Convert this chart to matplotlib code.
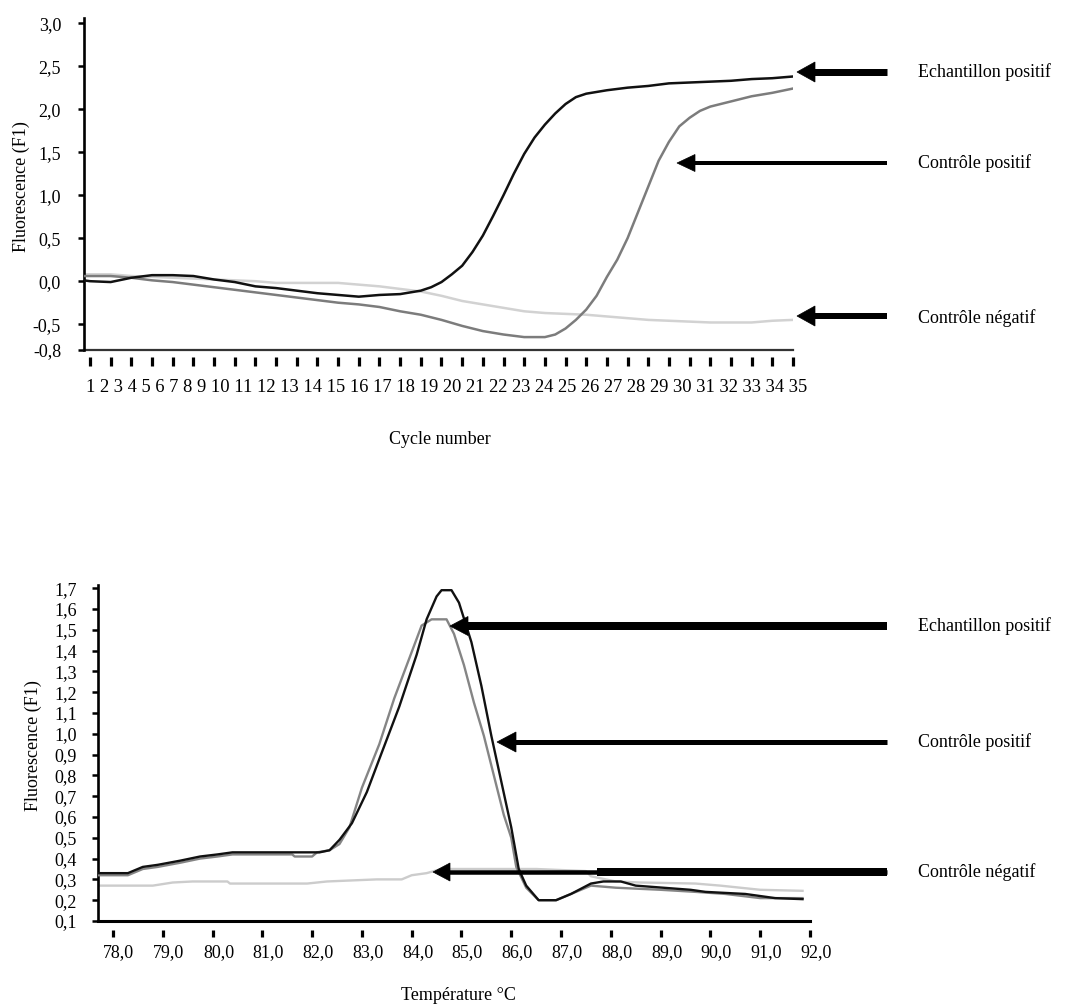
import matplotlib
matplotlib.use('Agg')
import matplotlib.pyplot as plt
from matplotlib.lines import Line2D
from matplotlib.patches import Polygon
from matplotlib.transforms import ScaledTranslation

plt.rcParams['font.family'] = ['Liberation Serif', 'DejaVu Serif']

# ─── données : amplification (cycles) ─────────────────────────
ECH_CYC = [0.7, 1, 2, 3, 4, 5, 6, 7, 8, 9, 10, 11, 12, 13, 14, 15, 16, 17,
           17.5, 18, 18.5, 19, 19.5, 20, 20.5, 21, 21.5, 22, 22.5, 23, 23.5, 24, 24.5,
           25, 26, 27, 28, 29, 30, 31, 32, 33, 34, 35]
ECH_FLU = [0.01, 0.0, -0.01, 0.04, 0.07, 0.07, 0.06, 0.02, -0.01, -0.06, -0.08, -0.11,
           -0.14, -0.16, -0.18, -0.16, -0.15, -0.11,
           -0.07, -0.01, 0.08, 0.18, 0.34, 0.53, 0.76, 1.0, 1.25, 1.48, 1.67, 1.82, 1.95, 2.06, 2.14,
           2.18, 2.22, 2.25, 2.27, 2.30, 2.31, 2.32, 2.33, 2.35, 2.36, 2.38]

POS_CYC = [0.7, 1, 2, 3, 4, 5, 6, 7, 8, 9, 10, 11, 12, 13, 14, 15, 16, 17, 18, 19, 20,
           21, 22, 23, 23.5, 24, 24.5, 25, 25.5, 26, 26.5, 27, 27.5, 28, 28.5, 29, 29.5,
           30, 30.5, 31, 32, 33, 34, 35]
POS_FLU = [0.06, 0.06, 0.06, 0.04, 0.01, -0.01, -0.04, -0.07, -0.10, -0.13, -0.16, -0.19,
           -0.22, -0.25, -0.27, -0.30, -0.35, -0.39, -0.45, -0.52, -0.58, -0.62, -0.65, -0.65,
           -0.62, -0.55, -0.45, -0.33, -0.17, 0.05, 0.25, 0.5, 0.8, 1.1, 1.4, 1.62, 1.8,
           1.9, 1.98, 2.03, 2.09, 2.15, 2.19, 2.24]

NEG_CYC = [0.7, 1, 2, 3, 4, 5, 6, 7, 8, 9, 10, 11, 12, 13, 14, 15, 16, 17, 18,
           19, 20, 21, 22, 23, 24, 25, 26, 27, 28, 29, 30, 31, 32, 33, 34, 35]
NEG_FLU = [0.08, 0.08, 0.08, 0.06, 0.05, 0.04, 0.03, 0.02, 0.01, 0.0, -0.02, -0.02, -0.02,
           -0.02, -0.04, -0.06, -0.09, -0.12, -0.17, -0.23, -0.27, -0.31, -0.35, -0.37,
           -0.38, -0.39, -0.41, -0.43, -0.45, -0.46, -0.47, -0.48, -0.48, -0.48, -0.46, -0.45]

CYCLE_TICKS = list(range(1, 36))
TOP_YTICKS = [-0.8, -0.5, 0.0, 0.5, 1.0, 1.5, 2.0, 2.5, 3.0]
TOP_YLABELS = ['-0,8', '-0,5', '0,0', '0,5', '1,0', '1,5', '2,0', '2,5', '3,0']

# ─── données : courbe de fusion (température) ─────────────────
ECH_T = [77.7, 78.3, 78.6, 78.9, 79.35, 79.75, 80.1, 80.4, 82.15, 82.35, 82.55, 82.8,
         83.1, 83.4, 83.75, 84.1, 84.3, 84.5, 84.6, 84.8, 84.95, 85.2, 85.4, 85.6, 85.8,
         86.0, 86.15, 86.3, 86.55, 86.9, 87.2, 87.6, 87.85, 88.2, 88.5, 89.05, 89.6,
         89.9, 90.7, 91.3, 91.85]
ECH_F = [0.33, 0.33, 0.36, 0.37, 0.39, 0.41, 0.42, 0.43, 0.43, 0.44, 0.49, 0.57,
         0.72, 0.91, 1.13, 1.38, 1.55, 1.66, 1.69, 1.69, 1.63, 1.44, 1.23, 0.99, 0.77,
         0.55, 0.35, 0.27, 0.20, 0.20, 0.23, 0.28, 0.29, 0.29, 0.27, 0.26, 0.25,
         0.24, 0.23, 0.21, 0.205]

POS_T = [77.7, 78.3, 78.6, 78.9, 79.35, 79.75, 80.1, 80.4, 81.6, 81.65, 82.0, 82.1,
         82.35, 82.55, 82.75, 83.0, 83.35, 83.65, 83.98, 84.2, 84.4, 84.7, 84.85, 85.05,
         85.25, 85.45, 85.65, 85.85, 86.0, 86.1, 86.2, 86.3, 86.55, 86.9, 87.2, 87.6,
         88.1, 89.0, 89.7, 90.3, 91.0, 91.85]
POS_F = [0.32, 0.32, 0.35, 0.36, 0.38, 0.40, 0.41, 0.42, 0.42, 0.41, 0.41, 0.43,
         0.44, 0.47, 0.55, 0.74, 0.95, 1.17, 1.38, 1.52, 1.55, 1.55, 1.48, 1.33,
         1.15, 0.99, 0.80, 0.61, 0.50, 0.36, 0.31, 0.26, 0.20, 0.20, 0.23, 0.27,
         0.26, 0.25, 0.24, 0.23, 0.21, 0.21]

NEG_T = [77.7, 78.8, 79.2, 79.6, 80.3, 80.35, 81.9, 82.3, 83.3, 83.8, 84.0, 84.3, 84.6,
         85.5, 86.5, 87.5, 87.6, 88.1, 88.6, 89.7, 90.2, 91.0, 91.85]
NEG_F = [0.27, 0.27, 0.285, 0.29, 0.29, 0.28, 0.28, 0.29, 0.30, 0.30, 0.32, 0.33, 0.35,
         0.35, 0.35, 0.34, 0.315, 0.29, 0.285, 0.28, 0.27, 0.25, 0.245]

TEMP_TICKS = [78, 79, 80, 81, 82, 83, 84, 85, 86, 87, 88, 89, 90, 91, 92]
TEMP_LABELS = ['78,0', '79,0', '80,0', '81,0', '82,0', '83,0', '84,0', '85,0',
               '86,0', '87,0', '88,0', '89,0', '90,0', '91,0', '92,0']
BOT_YTICKS = [0.1, 0.2, 0.3, 0.4, 0.5, 0.6, 0.7, 0.8, 0.9, 1.0, 1.1, 1.2, 1.3, 1.4,
              1.5, 1.6, 1.7]
BOT_YLABELS = ['0,1', '0,2', '0,3', '0,4', '0,5', '0,6', '0,7', '0,8', '0,9', '1,0',
               '1,1', '1,2', '1,3', '1,4', '1,5', '1,6', '1,7']

LABELS = ['Echantillon positif', 'Contrôle positif', 'Contrôle négatif']

# ─── figure (coordonnées en pixels) ───────────────────────────
W, H = 1088, 1008
fig = plt.figure(figsize=(W / 100, H / 100), dpi=100, facecolor='white')


def fx(x):
    return x / W


def fy(y):
    return 1 - y / H


def axes_px(left, top, right, bottom):
    return fig.add_axes([fx(left), fy(bottom), (right - left) / W, (bottom - top) / H])


def style_axes(ax, tick_offset, tick_len, ylen, ypad):
    for s in ('top', 'right'):
        ax.spines[s].set_visible(False)
    ax.spines['left'].set_linewidth(1.9)
    ax.spines['bottom'].set_position(('outward', tick_offset))
    ax.spines['bottom'].set_visible(False)
    ax.tick_params(axis='x', direction='out', length=tick_len, width=2.3, color='black')
    ax.tick_params(axis='y', direction='out', length=ylen, width=1.8, pad=ypad,
                   labelsize=13)


def arrow(x_tail, x_tip, y, shaft, head_w, head_l):
    fig.add_artist(Line2D([fx(x_tip + head_l - 1), fx(x_tail)], [fy(y), fy(y)],
                          lw=shaft * 0.72, color='black', solid_capstyle='butt'))
    fig.add_artist(Polygon([(fx(x_tip), fy(y)),
                            (fx(x_tip + head_l), fy(y - head_w / 2)),
                            (fx(x_tip + head_l), fy(y + head_w / 2))],
                           closed=True, transform=fig.transFigure,
                           facecolor='black', edgecolor='black', lw=0.5))


# ═══ graphe 1 : amplification ═════════════════════════════════
ax1 = axes_px(84, 18, 793, 350)
ax1.plot(NEG_CYC, NEG_FLU, color='#d2d2d2', lw=1.8, zorder=2)
ax1.plot(POS_CYC, POS_FLU, color='#7c7c7c', lw=1.8, zorder=3)
ax1.plot(ECH_CYC, ECH_FLU, color='#111111', lw=1.8, zorder=4)
ax1.set_xlim(0.71, 35.0)
ax1.set_ylim(-0.8, 3.06)
style_axes(ax1, 5, 6.5, 4.5, 12)
ax1.set_xticks(CYCLE_TICKS)
ax1.tick_params(axis='x', labelbottom=False)
ax1.set_yticks(TOP_YTICKS)
ax1.set_yticklabels(TOP_YLABELS)
ax1.axhline(-0.8, color='#333333', lw=1.6, clip_on=False)

fig.text(fx(86), fy(387), ' '.join(str(c) for c in CYCLE_TICKS),
         ha='left', va='center', fontsize=13.35)
fig.text(fx(21), fy(187), 'Fluorescence (F1)', rotation=90, ha='center',
         va='center', fontsize=13)
fig.text(fx(440), fy(440), 'Cycle number', ha='center', va='center', fontsize=13)

arrow(887, 797, 72, 7, 20, 18)
arrow(887, 677, 163, 4, 17, 18)
arrow(887, 797, 316, 6, 20, 18)
for lab, y in zip(LABELS, [72, 163, 318]):
    fig.text(fx(918), fy(y), lab, ha='left', va='center', fontsize=13)

# ═══ graphe 2 : courbe de fusion ══════════════════════════════
ax2 = axes_px(98, 585, 810, 921)
ax2.plot(NEG_T, NEG_F, color='#cccccc', lw=1.7, zorder=2)
ax2.plot(POS_T, POS_F, color='#858585', lw=1.7, zorder=3)
ax2.plot(ECH_T, ECH_F, color='#111111', lw=1.7, zorder=4)
ax2.set_xlim(77.7, 92.0)
ax2.set_ylim(0.1, 1.715)
style_axes(ax2, 6.5, 5, 4.3, 11)
ax2.set_xticks(TEMP_TICKS)
ax2.set_xticklabels(TEMP_LABELS)
ax2.tick_params(axis='x', labelsize=13, pad=5)
shift = ScaledTranslation(6 / 100, 0, fig.dpi_scale_trans)
for lbl in ax2.get_xticklabels():
    lbl.set_transform(lbl.get_transform() + shift)
ax2.set_yticks(BOT_YTICKS)
ax2.set_yticklabels(BOT_YLABELS)
ax2.axhline(0.1, color='black', lw=2.2, clip_on=False)

fig.text(fx(33), fy(746), 'Fluorescence (F1)', rotation=90, ha='center',
         va='center', fontsize=13)
fig.text(fx(458), fy(995), 'Température °C', ha='center', va='center', fontsize=13)

arrow(887, 450, 626, 8, 19, 18)
arrow(887, 497, 742, 5, 20, 19)
arrow(887, 433, 872, 4.5, 18, 17)
fig.add_artist(Line2D([fx(597), fx(887)], [fy(872), fy(872)], lw=8 * 0.72,
                      color='black', solid_capstyle='butt'))
for lab, y in zip(LABELS, [626, 742, 872]):
    fig.text(fx(918), fy(y), lab, ha='left', va='center', fontsize=13)

fig.savefig('out.png', dpi=100, facecolor='white')
